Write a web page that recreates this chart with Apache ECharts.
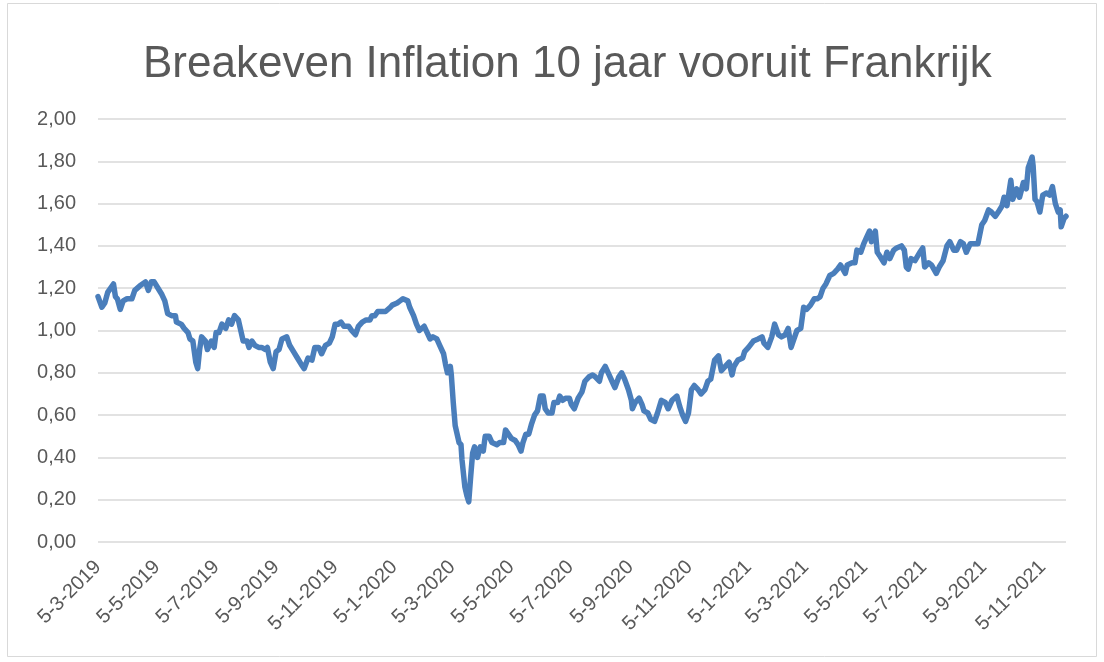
<!DOCTYPE html>
<html>
<head>
<meta charset="utf-8">
<script src="https://cdn.jsdelivr.net/npm/echarts@6/dist/echarts.min.js"></script>
<style>
  html, body { margin: 0; padding: 0; background: #fff; }
  #chart { width: 1104px; height: 662px; }
</style>
</head>
<body>
<div id="chart"></div>
<script>
// data: day offset from the first date, and the breakeven value
var startDate = '2019-03-05';
var endDate = '2021-11-29';
var dayOffsets = [
  0, 4, 7, 10, 12, 16, 18, 20, 23, 26, 30, 35, 38, 43, 49, 52, 55, 58, 62, 66,
  69, 72, 76, 80, 81, 86, 89, 93, 95, 98, 101, 103, 105, 107, 111, 113, 117, 120, 122, 125,
  128, 132, 135, 138, 141, 145, 148, 150, 154, 156, 159, 162, 166, 169, 173, 175, 178, 181, 184, 187,
  190, 195, 198, 202, 206, 210, 213, 217, 221, 224, 228, 231, 235, 239, 242, 245, 248, 251, 254, 259,
  262, 266, 269, 273, 277, 281, 283, 286, 289, 293, 297, 302, 304, 309, 312, 315, 320, 322, 326, 329,
  332, 334, 337, 341, 343, 346, 350, 353, 357, 359, 361, 364, 365, 367, 369, 371, 373, 375, 376, 379,
  381, 383, 385, 387, 389, 392, 395, 398, 400, 404, 407, 412, 415, 419, 421, 424, 427, 431, 434, 437,
  439, 442, 445, 448, 451, 454, 457, 460, 462, 465, 469, 471, 475, 477, 480, 483, 487, 489, 492, 496,
  500, 503, 507, 511, 514, 518, 520, 524, 528, 531, 534, 538, 541, 544, 548, 551, 552, 555, 559, 562,
  564, 568, 571, 575, 578, 582, 586, 589, 593, 598, 601, 604, 607, 610, 613, 616, 620, 623, 627, 630,
  633, 637, 641, 644, 648, 652, 655, 657, 661, 666, 668, 672, 677, 682, 686, 688, 692, 696, 699, 703,
  706, 710, 713, 716, 719, 722, 726, 729, 732, 736, 740, 743, 746, 749, 752, 756, 760, 764, 767, 772,
  774, 779, 782, 784, 788, 791, 794, 797, 799, 803, 805, 808, 812, 815, 818, 822, 825, 830, 833, 835,
  837, 840, 844, 849, 852, 854, 858, 861, 866, 869, 873, 877, 880, 884, 887, 891, 894, 897, 901, 904,
  909, 913, 916, 920, 923, 927, 930, 934, 936, 939, 943, 945, 949, 952, 956, 959, 961, 965, 966, 968,
  970, 973, 976, 980, 983, 986, 989, 992, 994, 995, 998, 1000
];
var breakeven = [
  1.16, 1.11, 1.13, 1.18, 1.18, 1.22, 1.16, 1.15, 1.10, 1.14, 1.15, 1.15, 1.19, 1.21, 1.23, 1.19, 1.23, 1.23, 1.20, 1.17,
  1.14, 1.08, 1.07, 1.07, 1.04, 1.03, 1.01, 0.99, 0.96, 0.95, 0.85, 0.82, 0.91, 0.97, 0.95, 0.91, 0.95, 0.92, 0.99, 0.99,
  1.03, 1.01, 1.05, 1.03, 1.07, 1.05, 0.99, 0.95, 0.95, 0.92, 0.95, 0.93, 0.92, 0.92, 0.91, 0.92, 0.85, 0.82, 0.90, 0.91,
  0.96, 0.97, 0.93, 0.90, 0.87, 0.84, 0.82, 0.87, 0.86, 0.92, 0.92, 0.89, 0.93, 0.94, 0.97, 1.03, 1.03, 1.04, 1.02, 1.02,
  1.00, 0.98, 1.02, 1.04, 1.05, 1.05, 1.07, 1.07, 1.09, 1.09, 1.09, 1.11, 1.12, 1.13, 1.14, 1.15, 1.14, 1.11, 1.07, 1.03,
  1.00, 1.00, 1.02, 0.98, 0.96, 0.97, 0.96, 0.93, 0.89, 0.84, 0.80, 0.83, 0.79, 0.66, 0.55, 0.51, 0.47, 0.46, 0.39, 0.26,
  0.22, 0.19, 0.31, 0.42, 0.45, 0.40, 0.45, 0.43, 0.50, 0.50, 0.47, 0.46, 0.47, 0.47, 0.53, 0.51, 0.49, 0.48, 0.46, 0.43,
  0.47, 0.51, 0.51, 0.56, 0.60, 0.62, 0.69, 0.69, 0.63, 0.61, 0.61, 0.66, 0.66, 0.69, 0.67, 0.68, 0.68, 0.65, 0.63, 0.68,
  0.71, 0.76, 0.78, 0.79, 0.78, 0.76, 0.80, 0.83, 0.79, 0.76, 0.73, 0.78, 0.80, 0.77, 0.72, 0.67, 0.63, 0.66, 0.68, 0.65,
  0.62, 0.61, 0.58, 0.57, 0.61, 0.67, 0.66, 0.63, 0.67, 0.69, 0.64, 0.60, 0.57, 0.61, 0.72, 0.74, 0.72, 0.70, 0.72, 0.76,
  0.77, 0.86, 0.88, 0.81, 0.83, 0.85, 0.79, 0.83, 0.86, 0.87, 0.90, 0.92, 0.95, 0.96, 0.97, 0.94, 0.92, 0.97, 1.03, 0.98,
  0.97, 0.98, 1.01, 0.92, 0.96, 1.00, 1.01, 1.11, 1.10, 1.12, 1.15, 1.15, 1.16, 1.20, 1.22, 1.26, 1.27, 1.29, 1.31, 1.27,
  1.31, 1.32, 1.32, 1.38, 1.37, 1.41, 1.44, 1.47, 1.42, 1.47, 1.37, 1.35, 1.32, 1.37, 1.34, 1.38, 1.39, 1.40, 1.38, 1.30,
  1.29, 1.34, 1.33, 1.37, 1.39, 1.30, 1.32, 1.31, 1.27, 1.30, 1.33, 1.40, 1.42, 1.38, 1.38, 1.42, 1.41, 1.37, 1.41, 1.41,
  1.41, 1.50, 1.52, 1.57, 1.56, 1.54, 1.56, 1.59, 1.63, 1.59, 1.71, 1.62, 1.67, 1.63, 1.70, 1.67, 1.77, 1.82, 1.78, 1.62,
  1.61, 1.56, 1.64, 1.65, 1.64, 1.68, 1.60, 1.56, 1.57, 1.49, 1.53, 1.54
];
var tickDates = [
  '2019-03-05', '2019-05-05', '2019-07-05', '2019-09-05', '2019-11-05',
  '2020-01-05', '2020-03-05', '2020-05-05', '2020-07-05', '2020-09-05', '2020-11-05',
  '2021-01-05', '2021-03-05', '2021-05-05', '2021-07-05', '2021-09-05', '2021-11-05'
];

var DAY = 86400000;
function toTime(s) {
    var p = s.split('-');
    return Date.UTC(+p[0], +p[1] - 1, +p[2]);
}

var t0 = toTime(startDate);
var lastDay = Math.round((toTime(endDate) - t0) / DAY);
var seriesData = dayOffsets.map(function (d, i) {
    return [d, breakeven[i]];
});
var tickDays = tickDates.map(function (s) {
    return Math.round((toTime(s) - t0) / DAY);
});

function dayLabel(d) {
    var dt = new Date(t0 + Math.round(d) * DAY);
    return dt.getUTCDate() + '-' + (dt.getUTCMonth() + 1) + '-' + dt.getUTCFullYear();
}

var textColor = '#595959';
var gridColor = '#d9d9d9';

var myChart = echarts.init(document.getElementById('chart'));
myChart.setOption({
    animation: false,
    backgroundColor: '#ffffff',
    title: {
        text: 'Breakeven Inflation 10 jaar vooruit Frankrijk',
        left: 138,
        top: 38,
        textStyle: {
            fontFamily: 'Liberation Sans',
            fontSize: 44,
            fontWeight: 'normal',
            color: textColor
        }
    },
    graphic: [{
        type: 'rect',
        shape: { x: 7.5, y: 3.5, width: 1089, height: 653 },
        style: { fill: 'none', stroke: gridColor, lineWidth: 1 },
        silent: true
    }],
    grid: { left: 98, right: 38, top: 119, bottom: 120, containLabel: false },
    xAxis: {
        type: 'value',
        min: 0,
        max: lastDay,
        axisLine: { show: false },
        axisTick: { show: false },
        splitLine: { show: false },
        axisLabel: {
            customValues: tickDays,
            rotate: 45,
            margin: 22,
            color: textColor,
            fontFamily: 'Liberation Sans',
            fontSize: 20,
            formatter: dayLabel
        }
    },
    yAxis: {
        type: 'value',
        min: 0,
        max: 2,
        interval: 0.2,
        axisLine: { show: false },
        axisTick: { show: false },
        splitLine: { lineStyle: { color: gridColor, width: 1.5 } },
        axisLabel: {
            margin: 22,
            color: textColor,
            fontFamily: 'Liberation Sans',
            fontSize: 20,
            formatter: function (v) { return v.toFixed(2).replace('.', ','); }
        }
    },
    series: [{
        type: 'line',
        data: seriesData,
        showSymbol: false,
        lineStyle: { color: '#4a7ebb', width: 5.5, join: 'round', cap: 'round' }
    }]
});
</script>
</body>
</html>
